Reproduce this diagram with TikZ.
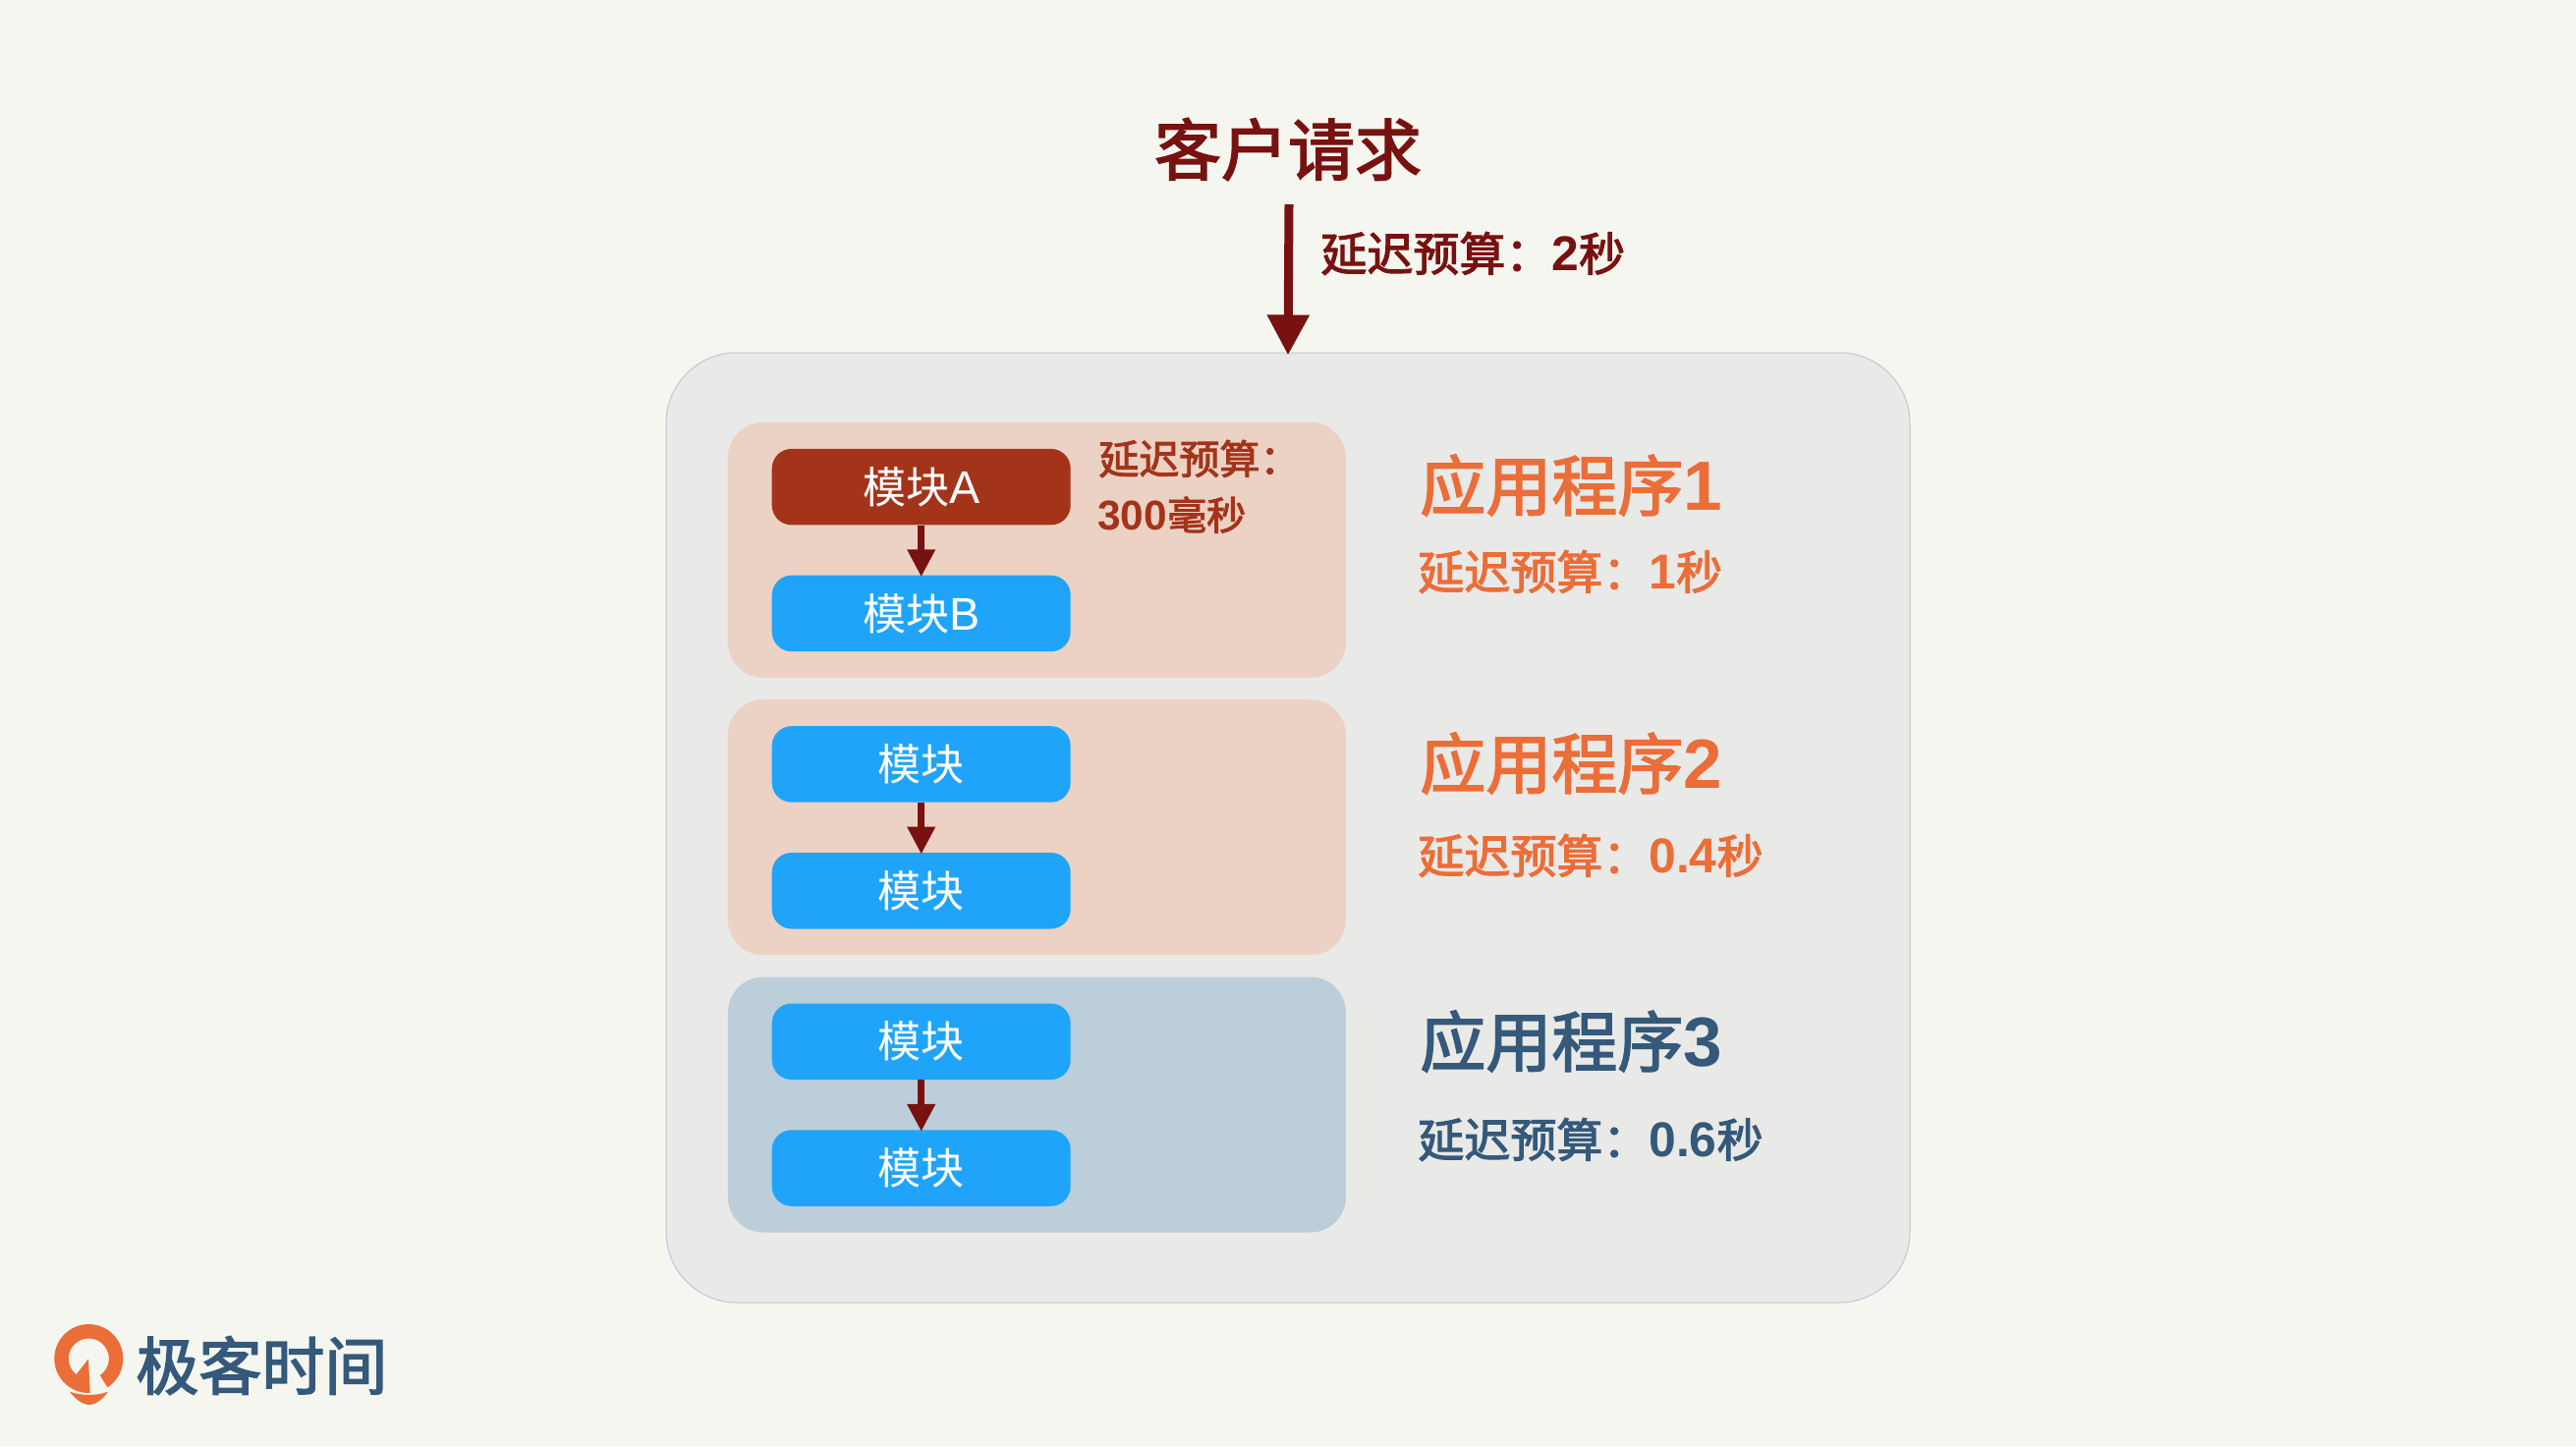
\documentclass[tikz,border=0pt]{standalone}
\usepackage{fontspec}
\setmainfont{Noto Sans CJK SC}[BoldFont={Noto Sans CJK SC},BoldFeatures={FakeBold=2.4}]
\newfontfamily\latinfont{Liberation Sans}[Scale=1.06]
\usetikzlibrary{positioning,arrows.meta,calc}

\definecolor{paperbg}{HTML}{F5F6F0}
\definecolor{outerfill}{HTML}{E9E9E7}
\definecolor{outerline}{HTML}{B9C9D6}
\definecolor{peachfill}{HTML}{ECD2C4}
\definecolor{bluefill}{HTML}{BBCED9}
\definecolor{modblue}{HTML}{20A4FA}
\definecolor{modred}{HTML}{A3341A}
\definecolor{darkred}{HTML}{781210}
\definecolor{appred}{HTML}{EB6D38}
\definecolor{appnavy}{HTML}{34597A}

\newcommand{\num}[1]{{\latinfont\bfseries #1}}
\newcommand{\fsize}[1]{\fontsize{#1}{#1}\selectfont}

\begin{document}
\begin{tikzpicture}[
    x=0.5pt, y=-0.5pt,
    outerbox/.style={rectangle, draw=outerline, line width=0.5pt, fill=outerfill, rounded corners=36pt, minimum width=633pt, minimum height=483.5pt},
    appbox/.style={rectangle, rounded corners=18pt, minimum width=314.5pt, minimum height=130pt},
    modbox/.style={rectangle, rounded corners=10pt, fill=modblue, text=white, minimum width=152pt, minimum height=38.75pt, inner sep=0pt, font=\fsize{22}},
    arrow/.style={-{Triangle[length=14pt, width=13.5pt]}, line width=3.5pt, draw=darkred, shorten >=-1pt},
    bigarrow/.style={-{Triangle[length=20.5pt, width=20.5pt]}, line width=4.5pt, draw=darkred, shorten >=-1.5pt},
    appname/.style={inner sep=0pt, anchor=west, font=\fsize{33.5}\bfseries},
    budget/.style={inner sep=0pt, anchor=west, font=\fsize{23.5}\bfseries}
]

\useasboundingbox[fill=paperbg] (0,0) rectangle (2622,1472);

% --- Request ---
\node[inner sep=0pt, text=darkred, font=\fsize{34}\bfseries] (request) at (1311,152) {客户请求};
\coordinate (reqstart) at (1312,208);
\node[outerbox] (outer) at (1311,842.5) {};
\draw[bigarrow] (reqstart) -- (outer.north);
\node[budget, text=darkred] (reqbudget) at (1344,258) {延迟预算：\num{2}秒};

% --- Application boxes ---
\node[appbox, fill=peachfill, below right=35.5pt and 31.5pt of outer.north west] (app1) {};
\node[appbox, fill=peachfill, below=10.75pt of app1] (app2) {};
\node[appbox, fill=bluefill, below=10.75pt of app2] (app3) {};

% --- Modules ---
\node[modbox, fill=modred, below right=13.5pt and 22.4pt of app1.north west] (mod1a) {模块\num{\mdseries A}};
\node[modbox, below=25.25pt of mod1a] (mod1b) {模块\num{\mdseries B}};
\draw[arrow] (mod1a) -- (mod1b);

\node[modbox, below right=13.5pt and 22.4pt of app2.north west] (mod2a) {模块};
\node[modbox, below=25.25pt of mod2a] (mod2b) {模块};
\draw[arrow] (mod2a) -- (mod2b);

\node[modbox, below right=13.5pt and 22.4pt of app3.north west] (mod3a) {模块};
\node[modbox, below=25.25pt of mod3a] (mod3b) {模块};
\draw[arrow] (mod3a) -- (mod3b);

% --- Module budget ---
\node[budget, text=modred, font=\fsize{20.5}\bfseries] (modbudget1) at (1118,467) {延迟预算：};
\node[budget, text=modred, font=\fsize{20}\bfseries] (modbudget2) at (1117,524) {\num{300}毫秒};

% --- Application labels ---
\node[appname, text=appred] (name1) at (1445,494) {应用程序\num{1}};
\node[budget, text=appred] (budget1) at (1443,582) {延迟预算：\num{1}秒};
\node[appname, text=appred] (name2) at (1445,777) {应用程序\num{2}};
\node[budget, text=appred] (budget2) at (1443,871) {延迟预算：\num{0.4}秒};
\node[appname, text=appnavy] (name3) at (1445,1060) {应用程序\num{3}};
\node[budget, text=appnavy] (budget3) at (1443,1160) {延迟预算：\num{0.6}秒};

% --- Logo ---
\fill[appred] plot[domain=88:417, samples=60] ({90.3+35*cos(\x)},{1383+35*sin(\x)})
    -- plot[domain=416:128, samples=50] ({90.3+20.5*cos(\x)},{1383+20.5*sin(\x)})
    -- (90,1383.3) -- (91.7,1418.3) -- cycle;
\fill[appred] (71,1416.7) .. controls (84,1421) and (98,1421) .. (110,1416.7)
    .. controls (104,1425) and (97,1430) .. (91,1430) .. controls (85,1430) and (77,1425) .. (71,1416.7) -- cycle;
\node[inner sep=0pt, anchor=west, text=appnavy, font=\fsize{32}\bfseries] (logotext) at (138,1390) {极客时间};

\end{tikzpicture}
\end{document}
